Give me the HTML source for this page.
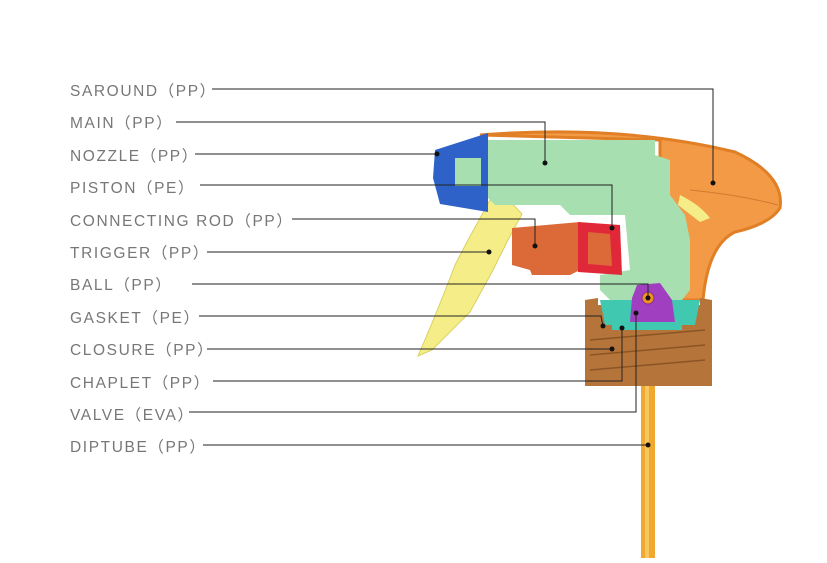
<!DOCTYPE html><html><head><style>
body{margin:0;background:#fff;width:827px;height:558px;overflow:hidden}
svg text{font-family:"Liberation Sans",sans-serif;font-size:15.5px;fill:#777;letter-spacing:1.6px}
</style></head><body>
<svg width="827" height="558" viewBox="0 0 827 558">
<rect x="641" y="315" width="14" height="243" fill="#f0a830"/>
<rect x="645" y="315" width="4" height="243" fill="#f8c860"/>
<path d="M480,135 Q620,124 735,152 Q785,175 780,208 Q770,224 735,232 Q708,245 703,300 L660,300 L660,140 Z" fill="#f29a45" stroke="#e07f25" stroke-width="3"/>
<path d="M690,190 Q740,195 778,205" stroke="#d07a30" fill="none"/>
<path d="M585,300 L598,298 L598,305 L700,305 L700,298 L712,300 L712,386 L585,386 Z" fill="#b5743a"/>
<path d="M590,340 L705,330 M590,355 L705,345 M590,370 L705,360" stroke="#8a5525" stroke-width="1.5"/>
<path d="M490,200 L505,196 L522,214 L508,240 L492,272 L470,312 L432,350 L418,356 Q440,305 455,265 L468,240 L478,222 Z" fill="#f5ee88" stroke="#d8d060"/>
<path d="M680,195 Q700,205 710,218 L700,222 L678,205 Z" fill="#f5ee88"/>
<path d="M482,140 L655,140 L655,155 L670,160 L670,195 L685,215 L690,240 L690,290 L682,300 L610,300 L600,290 L600,275 L630,270 L625,215 L570,215 L560,205 L495,205 L485,195 L482,165 Z" fill="#a8dfb0"/>
<path d="M600,300 L700,300 L695,325 L605,325 Z" fill="#40c8b0"/>
<rect x="612" y="315" width="70" height="15" fill="#40c8b0"/>
<path d="M435,150 L488,133 L488,212 L440,204 L433,178 Z" fill="#2f62c8"/>
<rect x="455" y="158" width="26" height="28" fill="#a8dfb0"/>
<path d="M512,228 L580,222 L580,270 L570,275 L532,275 L530,270 L512,265 Z" fill="#dc6a38"/>
<path d="M578,222 L620,225 L622,275 L578,272 Z" fill="#e02838"/>
<path d="M588,232 L610,234 L612,266 L588,264 Z" fill="#dc6a38"/>
<path d="M637,285 L660,283 L672,300 L675,322 L630,322 L632,298 Z" fill="#a040c0"/>
<circle cx="648" cy="298" r="6" fill="#f09020" stroke="#803090"/>
<g stroke="#222" stroke-width="1" fill="none">
<polyline points="212,89 713,89 713,183"/>
<polyline points="176,122 545,122 545,163"/>
<polyline points="195,154 437,154"/>
<polyline points="200,185 612,185 612,228"/>
<polyline points="292,219 535,219 535,246"/>
<polyline points="207,252 489,252"/>
<polyline points="192,284 648,284 648,298"/>
<polyline points="199,316 601,316 603,326"/>
<polyline points="207,349 612,349"/>
<polyline points="213,381 622,381 622,328"/>
<polyline points="189,412 636,412 636,313"/>
<polyline points="203,445 648,445"/>
</g>
<g fill="#111">
<circle cx="713" cy="183" r="2.5"/><circle cx="545" cy="163" r="2.5"/><circle cx="437" cy="154" r="2.5"/>
<circle cx="612" cy="228" r="2.5"/><circle cx="535" cy="246" r="2.5"/><circle cx="489" cy="252" r="2.5"/>
<circle cx="648" cy="298" r="2.5"/><circle cx="603" cy="326" r="2.5"/><circle cx="612" cy="349" r="2.5"/>
<circle cx="622" cy="328" r="2.5"/><circle cx="636" cy="313" r="2.5"/><circle cx="648" cy="445" r="2.5"/>
</g>
<text x="70" y="96">SAROUND（PP）</text>
<text x="70" y="128">MAIN（PP）</text>
<text x="70" y="161">NOZZLE（PP）</text>
<text x="70" y="193">PISTON（PE）</text>
<text x="70" y="226">CONNECTING ROD（PP）</text>
<text x="70" y="258">TRIGGER（PP）</text>
<text x="70" y="290">BALL（PP）</text>
<text x="70" y="323">GASKET（PE）</text>
<text x="70" y="355">CLOSURE（PP）</text>
<text x="70" y="388">CHAPLET（PP）</text>
<text x="70" y="420">VALVE（EVA）</text>
<text x="70" y="452">DIPTUBE（PP）</text>
</svg>
</body></html>
